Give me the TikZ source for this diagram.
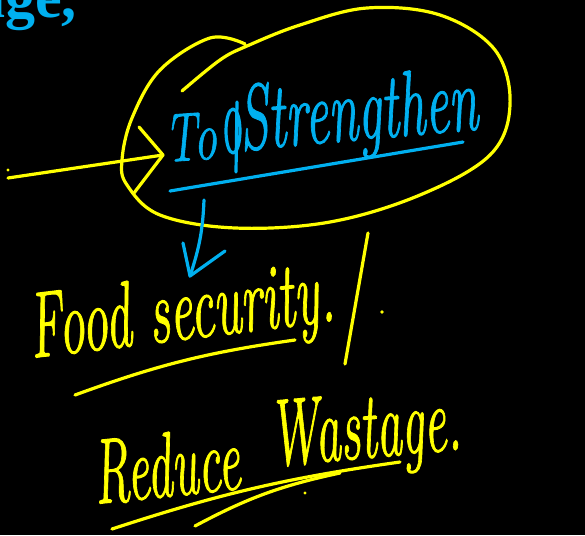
\documentclass[tikz,border=0pt]{standalone}
\usepackage{fontspec}
\setmainfont{Latin Modern Roman}
\newfontfamily\serifbold{Liberation Serif}
\newfontfamily\hand[FakeBold=1.2]{Latin Modern Roman}
\definecolor{pen}{HTML}{FFFF00}
\definecolor{bluepen}{HTML}{00B0F0}
\begin{document}
\begin{tikzpicture}[x=1pt,y=-1pt,
  ystroke/.style={draw=pen,line width=3.2pt,line cap=round,line join=round},
  bstroke/.style={draw=bluepen,line width=3.2pt,line cap=round,line join=round},
  hand/.style={inner sep=0pt,font=\hand\itshape}]
\fill[black] (0,0) rectangle (585,535);
\useasboundingbox (0,0) rectangle (585,535);
% partial heading
\node[anchor=base west,inner sep=0pt,text=bluepen,font=\serifbold\bfseries\fontsize{60}{64}\selectfont] (ge) at (-25,18) {age,};
% yellow loop
\draw[ystroke] plot[smooth,tension=0.6] coordinates {(182,91) (220,60) (247,46) (300,25) (367,8) (440,15) (495,50) (510,105) (490,155) (420,195) (330,222) (235,228) (160,215) (127,185) (122,160) (132,118) (160,70) (210,38) (245,44)};
% yellow arrow into loop
\coordinate (atail) at (8,178);
\coordinate (atip) at (163,155);
\coordinate (ah1) at (139,127);
\coordinate (ah2) at (134,193);
\draw[ystroke] (atail) -- (atip);
\draw[ystroke] (ah1) -- (atip) -- (ah2);
\fill[pen] (8,170) circle (1.6);
% blue text
\node[hand,text=bluepen,anchor=base west,rotate=4] (to) at (166,162) {\scalebox{1.0}[1.5]{\fontsize{46}{50}\selectfont To}};
\draw[bstroke] (233,131) ellipse (7 and 22);
\draw[bstroke] (237,102) -- (236,172);
\node[hand,text=bluepen,anchor=base west,rotate=5] (str) at (241,150) {\scalebox{1.0}[1.75]{\fontsize{53}{57}\selectfont Strengthen}};
\coordinate (bu1) at (170,191);
\coordinate (bu2) at (463,142);
\draw[bstroke] (bu1) -- (bu2);
% blue down arrow
\coordinate (dtop) at (204,200);
\coordinate (dtip) at (190,276);
\coordinate (dh1) at (183,243);
\coordinate (dh2) at (225,251);
\draw[bstroke] (dtop) to[bend left=8] (dtip);
\draw[bstroke] (dh1) -- (dtip) -- (dh2);
% Food security
\node[hand,text=pen,anchor=base west,rotate=7] (food) at (32,358) {\scalebox{1.0}[1.8]{\fontsize{52}{56}\selectfont Food security.}};
\coordinate (fu1) at (75,395);
\coordinate (fu2) at (295,340);
\draw[ystroke] (fu1) to[bend left=6] (fu2);
\coordinate (sl1) at (368,233);
\coordinate (sl2) at (345,364);
\draw[ystroke] (sl1) -- (sl2);
\fill[pen] (382,312) circle (1.8);
% Reduce Wastage
\node[hand,text=pen,anchor=base west,rotate=6] (reduce) at (96,504) {\scalebox{1.0}[1.85]{\fontsize{50}{54}\selectfont Reduce}};
\node[hand,text=pen,anchor=base west,rotate=5] (wastage) at (272,466) {\scalebox{1.0}[1.9]{\fontsize{50}{54}\selectfont Wastage.}};
\coordinate (ru1) at (112,529);
\coordinate (ru2) at (400,462);
\draw[ystroke] (ru1) to[bend left=5] (ru2);
\coordinate (rv1) at (195,526);
\coordinate (rv2) at (340,473);
\draw[ystroke] (rv1) to[bend left=8] (rv2);
\fill[pen] (305,493) circle (1.6);
\end{tikzpicture}
\end{document}
